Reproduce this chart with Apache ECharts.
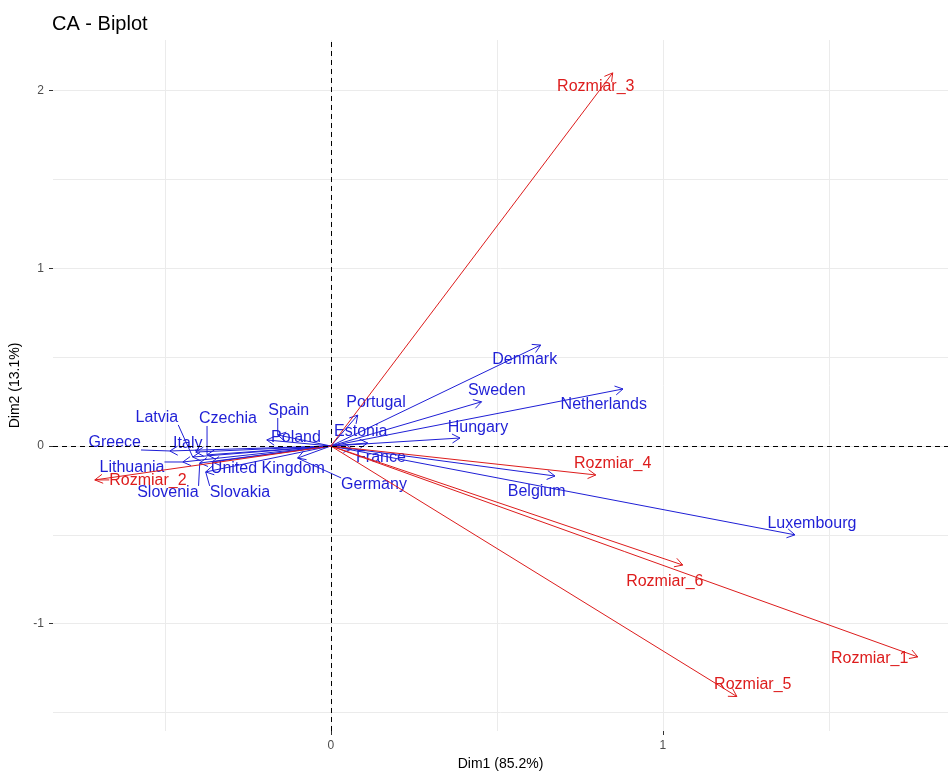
<!DOCTYPE html>
<html>
<head>
<meta charset="utf-8">
<title>CA - Biplot</title>
<script src="https://cdn.jsdelivr.net/npm/echarts@6/dist/echarts.min.js"></script>
<style>
html, body { margin: 0; padding: 0; background: #fff; }
#container { width: 948px; height: 771px; }
</style>
</head>
<body>
<div id="container"></div>
<script>
// wiersze (kraje) - wspolrzedne Dim1 / Dim2
var rowNames = ['Belgium', 'Czechia', 'Denmark', 'Germany', 'Estonia', 'Greece', 'Spain', 'France', 'Italy', 'Latvia',
  'Lithuania', 'Luxembourg', 'Hungary', 'Netherlands', 'Poland', 'Portugal', 'Slovenia', 'Slovakia', 'Sweden', 'United Kingdom'];
var rowDim1 = [0.675, -0.373, 0.632, -0.100, 0.111, -0.485, -0.160, 0.063, -0.407, -0.416,
  -0.446, 1.398, 0.389, 0.880, -0.193, 0.081, -0.395, -0.377, 0.454, -0.358];
var rowDim2 = [-0.169, -0.050, 0.568, -0.068, 0.017, -0.028, 0.062, -0.017, -0.034, -0.062,
  -0.090, -0.500, 0.045, 0.321, 0.034, 0.174, -0.096, -0.146, 0.249, -0.090];
// gdzie ggrepel postawil etykiety (w jednostkach osi)
var rowLabDim1 = [0.620, -0.310, 0.584, 0.130, 0.090, -0.651, -0.127, 0.151, -0.431, -0.524,
  -0.599, 1.449, 0.443, 0.822, -0.105, 0.136, -0.491, -0.274, 0.500, -0.190];
var rowLabDim2 = [-0.259, 0.152, 0.484, -0.219, 0.079, 0.017, 0.197, -0.068, 0.011, 0.158,
  -0.124, -0.439, 0.101, 0.231, 0.045, 0.242, -0.264, -0.264, 0.310, -0.129];

// kolumny (rozmiary)
var colNames = ['Rozmiar_1', 'Rozmiar_2', 'Rozmiar_3', 'Rozmiar_4', 'Rozmiar_5', 'Rozmiar_6'];
var colDim1 = [1.768, -0.711, 0.849, 0.798, 1.223, 1.060];
var colDim2 = [-1.187, -0.191, 2.100, -0.163, -1.410, -0.670];
var colLabDim1 = [1.623, -0.551, 0.798, 0.849, 1.271, 1.006];
var colLabDim2 = [-1.199, -0.197, 2.020, -0.101, -1.345, -0.765];

// osie
var xTicks = [0, 1];
var yTicks = [-1, 0, 1, 2];
var xMin = -0.837, xMax = 1.859;
var yMin = -1.604, yMax = 2.285;

var BLUE = '#1f1fd6';
var RED = '#dd1c1c';
var LABEL_FONT = '16px "Liberation Sans", Arial, sans-serif';

var ctx = document.createElement('canvas').getContext('2d');
ctx.font = LABEL_FONT;

// strzalka od (0,0) do punktu
function arrowItem(color) {
  return function(params, api) {
    var o = api.coord([0, 0]);
    var p = api.coord([api.value(0), api.value(1)]);
    var ang = Math.atan2(p[1] - o[1], p[0] - o[0]);
    var len = 9, a = Math.PI / 6;
    var h1 = [p[0] - len * Math.cos(ang - a), p[1] - len * Math.sin(ang - a)];
    var h2 = [p[0] - len * Math.cos(ang + a), p[1] - len * Math.sin(ang + a)];
    return {
      type: 'group',
      children: [
        { type: 'line', shape: { x1: o[0], y1: o[1], x2: p[0], y2: p[1] }, style: { stroke: color, lineWidth: 1 } },
        { type: 'polyline', shape: { points: [h1, p, h2] }, style: { stroke: color, lineWidth: 1, fill: null } }
      ]
    };
  };
}

// etykieta + odcinek prowadzacy (jak ggrepel)
function labelItem(color, names) {
  return function(params, api) {
    var p = api.coord([api.value(0), api.value(1)]);
    var c = api.coord([api.value(2), api.value(3)]);
    var name = names[params.dataIndex];
    var w = ctx.measureText(name).width, h = 14;
    var bx = Math.max(c[0] - w / 2, Math.min(p[0], c[0] + w / 2));
    var by = Math.max(c[1] - h / 2, Math.min(p[1], c[1] + h / 2));
    var children = [];
    if (Math.hypot(p[0] - bx, p[1] - by) > 12) {
      children.push({ type: 'line', shape: { x1: p[0], y1: p[1], x2: bx, y2: by }, style: { stroke: color, lineWidth: 1 } });
    }
    children.push({
      type: 'text', x: c[0], y: c[1],
      style: { text: name, fill: color, font: LABEL_FONT, align: 'center', verticalAlign: 'middle' }
    });
    return { type: 'group', children: children };
  };
}

function pts(d1, d2, l1, l2) {
  var out = [];
  for (var i = 0; i < d1.length; i++) {
    out.push([d1[i], d2[i], l1[i], l2[i]]);
  }
  return out;
}

var rowData = pts(rowDim1, rowDim2, rowLabDim1, rowLabDim2);
var colData = pts(colDim1, colDim2, colLabDim1, colLabDim2);

var gridLine = { show: true, showMinLine: false, showMaxLine: false, lineStyle: { color: '#ebebeb', width: 1 } };
var tickLabel = { color: '#4d4d4d', fontSize: 12, fontFamily: 'Liberation Sans', margin: 9 };
var axisName = { color: '#000', fontSize: 14, fontFamily: 'Liberation Sans' };

var dom = document.getElementById('container');
var myChart = echarts.init(dom, null, { renderer: 'canvas' });

var option = {
  animation: false,
  backgroundColor: '#fff',
  title: {
    text: 'CA - Biplot', left: 47, top: 9,
    textStyle: { fontSize: 20, fontWeight: 'normal', color: '#000', fontFamily: 'Liberation Sans' }
  },
  grid: { left: 53, right: 0, top: 40, bottom: 40, outerBoundsMode: 'none', containLabel: false },
  xAxis: [
    {
      type: 'value', min: xMin, max: xMax, splitNumber: 6, minInterval: 0.5, maxInterval: 0.5,
      axisLine: { show: false, onZero: false }, axisTick: { show: false }, axisLabel: { show: false },
      splitLine: gridLine
    },
    {
      type: 'value', position: 'bottom', min: xMin, max: xMax,
      axisLine: { show: false, onZero: false },
      axisTick: { show: true, customValues: xTicks, length: 4, lineStyle: { color: '#333' } },
      axisLabel: Object.assign({ customValues: xTicks }, tickLabel),
      splitLine: { show: false },
      name: 'Dim1 (85.2%)', nameLocation: 'middle', nameGap: 24, nameTextStyle: axisName
    }
  ],
  yAxis: [
    {
      type: 'value', min: yMin, max: yMax, splitNumber: 8, minInterval: 0.5, maxInterval: 0.5,
      axisLine: { show: false, onZero: false }, axisTick: { show: false }, axisLabel: { show: false },
      splitLine: gridLine
    },
    {
      type: 'value', position: 'left', min: yMin, max: yMax,
      axisLine: { show: false, onZero: false },
      axisTick: { show: true, customValues: yTicks, length: 4, lineStyle: { color: '#333' } },
      axisLabel: Object.assign({ customValues: yTicks }, tickLabel),
      splitLine: { show: false },
      name: 'Dim2 (13.1%)', nameLocation: 'middle', nameGap: 26, nameTextStyle: axisName
    }
  ],
  series: [
    {
      // linie przerywane w zerze
      type: 'line', data: [[0, 0]], showSymbol: false, silent: true,
      lineStyle: { opacity: 0 },
      markLine: {
        silent: true, symbol: 'none', label: { show: false },
        lineStyle: { color: '#000', type: [5, 4], width: 1 },
        data: [{ xAxis: 0 }, { yAxis: 0 }]
      }
    },
    { type: 'custom', name: 'rows', data: rowData, encode: { x: 0, y: 1 }, renderItem: arrowItem(BLUE), silent: true },
    { type: 'custom', name: 'rowLabels', data: rowData, encode: { x: 0, y: 1 }, renderItem: labelItem(BLUE, rowNames), silent: true },
    { type: 'custom', name: 'cols', data: colData, encode: { x: 0, y: 1 }, renderItem: arrowItem(RED), silent: true },
    { type: 'custom', name: 'colLabels', data: colData, encode: { x: 0, y: 1 }, renderItem: labelItem(RED, colNames), silent: true }
  ]
};

myChart.setOption(option);
</script>
</body>
</html>
